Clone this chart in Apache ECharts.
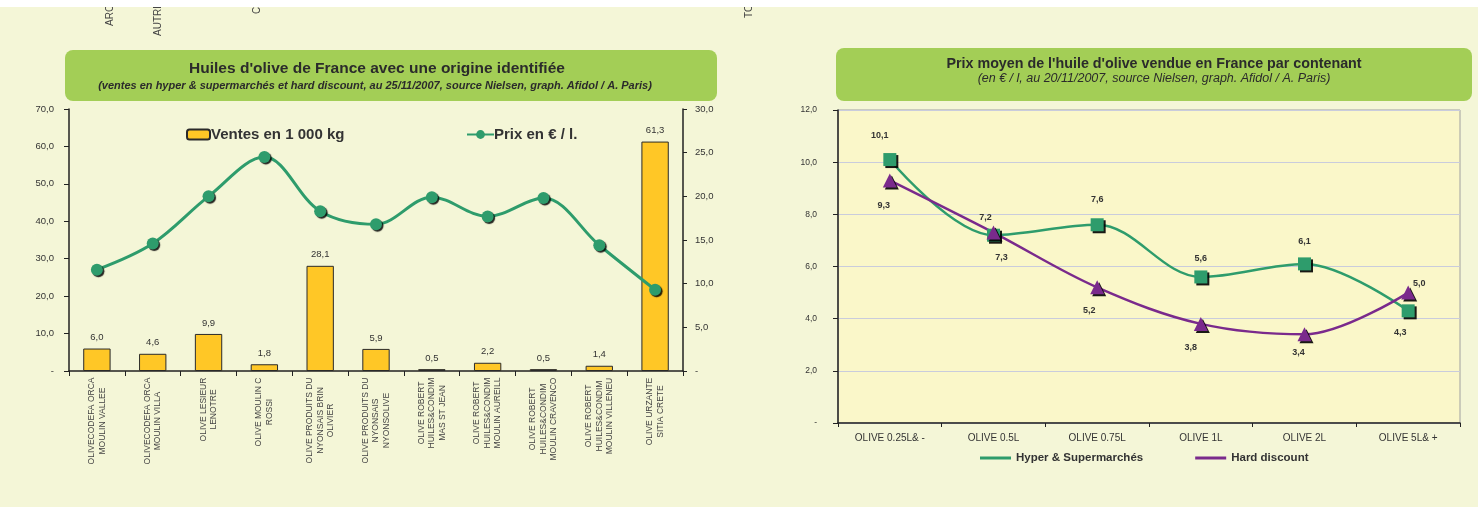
<!DOCTYPE html>
<html><head><meta charset="utf-8">
<script src="https://cdn.jsdelivr.net/npm/echarts@6/dist/echarts.min.js"></script>
<style>html,body{margin:0;padding:0;background:#F4F6D7;}#c{width:1478px;height:507px;}</style>
</head><body><div id="c"></div>
<script>
// ---- Left chart data ----
const leftCategories = [
  'OLIVECODEFA ORCA\nMOULIN VALLEE',
  'OLIVECODEFA ORCA\nMOULIN VILLA',
  'OLIVE LESIEUR\nLENOTRE',
  'OLIVE MOULIN C\nROSSI',
  'OLIVE PRODUITS DU\nNYONSAIS BRIN\nOLIVIER',
  'OLIVE PRODUITS DU\nNYONSAIS\nNYONSOLIVE',
  'OLIVE ROBERT\nHUILES&CONDIM\nMAS ST JEAN',
  'OLIVE ROBERT\nHUILES&CONDIM\nMOULIN AUREILL',
  'OLIVE ROBERT\nHUILES&CONDIM\nMOULIN CRAVENCO',
  'OLIVE ROBERT\nHUILES&CONDIM\nMOULIN VILLENEU',
  'OLIVE URZANTE\nSITIA CRETE'
];
const ventes = [6.0, 4.6, 9.9, 1.8, 28.1, 5.9, 0.5, 2.2, 0.5, 1.4, 61.3];
const prix = [11.6, 14.6, 20.0, 24.5, 18.3, 16.8, 19.9, 17.7, 19.8, 14.4, 9.3];
const leftTicks = [0, 10, 20, 30, 40, 50, 60, 70];
const rightTicks = [0, 5, 10, 15, 20, 25, 30];

// ---- Right chart data ----
const contenants = ['OLIVE 0.25L& -', 'OLIVE 0.5L', 'OLIVE 0.75L', 'OLIVE 1L', 'OLIVE 2L', 'OLIVE 5L& +'];
const hyper = [10.1, 7.2, 7.6, 5.6, 6.1, 4.3];
const hardDiscount = [9.3, 7.3, 5.2, 3.8, 3.4, 5.0];
const prixTicks = [0, 2, 4, 6, 8, 10, 12];

const FONT = 'Liberation Sans, Arial, sans-serif';
const fmt = v => v === 0 ? '-' : v.toFixed(1).replace('.', ',');
const GREEN = '#2E9C6C', PURPLE = '#7A2A8C', YELLOW = '#FFC726';

// label placement for the right chart
const hyperPos = ['top','top','top','top','top','bottom'];
const hyperOff = [[-10,-3],[-8,3],[0,-4],[0,3],[0,-1],[-8,1]];
const hardPos = ['bottom','bottom','bottom','bottom','bottom','top'];
const hardOff = [[-6,4],[8,3],[-8,2],[-10,2],[-6,-3],[11,12]];

// per-category rich styles so each multi-line label is a centred block anchored at the axis
const CAT_FS = 8.5;
const cv = document.createElement('canvas').getContext('2d');
cv.font = CAT_FS + 'px Liberation Sans';
const catRich = {};
leftCategories.forEach((c, i) => {
  const w = Math.max(...c.split('\n').map(l => cv.measureText(l).width));
  catRich['l' + i] = { width: Math.ceil(w) + 1, align: 'center', fontSize: CAT_FS, lineHeight: 10.5, color: '#444', fontFamily: FONT };
});

const chart = echarts.init(document.getElementById('c'));
chart.setOption({
  animation: false,
  backgroundColor: '#F4F6D7',
  textStyle: { fontFamily: FONT },
  graphic: [
    { type: 'text', rotation: Math.PI/2, position: [110, 26], style: { text: 'ARC', fill: '#444', font: '10px ' + FONT, textAlign: 'left', textVerticalAlign: 'middle' }, z: 1 },
    { type: 'text', rotation: Math.PI/2, position: [158, 36], style: { text: 'AUTRE', fill: '#444', font: '10px ' + FONT, textAlign: 'left', textVerticalAlign: 'middle' }, z: 1 },
    { type: 'text', rotation: Math.PI/2, position: [257, 14], style: { text: 'CO', fill: '#444', font: '10px ' + FONT, textAlign: 'left', textVerticalAlign: 'middle' }, z: 1 },
    { type: 'text', rotation: Math.PI/2, position: [749, 18], style: { text: 'TOT', fill: '#444', font: '10px ' + FONT, textAlign: 'left', textVerticalAlign: 'middle' }, z: 1 },
    { type: 'rect', shape: { x: 0, y: 0, width: 1478, height: 7 }, style: { fill: '#FFFFFF' }, z: 2 },
    { type: 'rect', shape: { x: 65, y: 50, width: 652, height: 51, r: 8 }, style: { fill: '#A3CE56' }, z: 1 },
    { type: 'text', position: [377, 69], style: { text: "Huiles d'olive de France avec une origine identifiée", fill: '#2b2b2b', font: 'bold 15.5px ' + FONT, textAlign: 'center', textVerticalAlign: 'middle' }, z: 2 },
    { type: 'text', position: [375, 86], style: { text: "(ventes en hyper & supermarchés et hard discount, au 25/11/2007, source Nielsen, graph. Afidol / A. Paris)", fill: '#2b2b2b', font: 'italic bold 11px ' + FONT, textAlign: 'center', textVerticalAlign: 'middle' }, z: 2 },
    { type: 'rect', shape: { x: 836, y: 48, width: 636, height: 53, r: 8 }, style: { fill: '#A3CE56' }, z: 1 },
    { type: 'text', position: [1154, 64], style: { text: "Prix moyen de l'huile d'olive vendue en France par contenant", fill: '#2b2b2b', font: 'bold 14.3px ' + FONT, textAlign: 'center', textVerticalAlign: 'middle' }, z: 2 },
    { type: 'text', position: [1154, 79], style: { text: "(en € / l, au 20/11/2007, source Nielsen, graph. Afidol / A. Paris)", fill: '#2b2b2b', font: 'italic 12.5px ' + FONT, textAlign: 'center', textVerticalAlign: 'middle' }, z: 2 }
  ],
  legend: [
    { data: ['Ventes en 1 000 kg'], left: 181, top: 122, itemWidth: 23, itemHeight: 10, itemGap: 2,
      textStyle: { fontSize: 15, fontWeight: 'bold', color: '#333', fontFamily: FONT, padding: [0,0,0,-4] } },
    { data: ['Prix en € / l.'], left: 461, top: 122, itemWidth: 27, itemHeight: 11,
      textStyle: { fontSize: 15, fontWeight: 'bold', color: '#333', fontFamily: FONT, padding: [0,0,0,-5] } },
    { data: [{ name: 'Hyper & Supermarchés', icon: 'rect' }, { name: 'Hard discount', icon: 'rect' }],
      left: 975, top: 447, itemWidth: 31, itemHeight: 3, itemGap: 52,
      textStyle: { fontSize: 11.5, fontWeight: 'bold', color: '#333', fontFamily: FONT } }
  ],
  grid: [
    { left: 69, right: 795, top: 109, bottom: 136 },
    { left: 838, right: 18, top: 110, bottom: 84, show: true, backgroundColor: '#FAF7C9', borderColor: '#A0A0A0', borderWidth: 1 }
  ],
  xAxis: [
    { type: 'category', gridIndex: 0, data: leftCategories, boundaryGap: true,
      axisLine: { lineStyle: { color: '#222', width: 1.5 } },
      axisTick: { show: true, length: 5, lineStyle: { color: '#222' } },
      axisLabel: { rotate: 90, margin: 6, interval: 0, color: '#444',
        formatter: (v, i) => v.split('\n').map(l => '{l' + i + '|' + l + '}').join('\n'),
        rich: catRich } },
    { type: 'category', gridIndex: 1, data: contenants, boundaryGap: true,
      axisLine: { lineStyle: { color: '#222', width: 1.5 } },
      axisTick: { show: true, length: 4, lineStyle: { color: '#222' } },
      axisLabel: { margin: 10, fontSize: 10, color: '#333', fontFamily: FONT } }
  ],
  yAxis: [
    { type: 'value', gridIndex: 0, min: leftTicks[0], max: leftTicks[leftTicks.length-1], interval: 10,
      axisLine: { show: true, lineStyle: { color: '#222', width: 1.5 } },
      axisTick: { show: true, length: 5, lineStyle: { color: '#222' } },
      splitLine: { show: false },
      axisLabel: { formatter: fmt, fontSize: 9.5, color: '#333', margin: 15, fontFamily: FONT } },
    { type: 'value', gridIndex: 0, position: 'right', min: rightTicks[0], max: rightTicks[rightTicks.length-1], interval: 5,
      axisLine: { show: true, lineStyle: { color: '#222', width: 1.5 } },
      axisTick: { show: true, length: 4, lineStyle: { color: '#222' } },
      splitLine: { show: false },
      axisLabel: { formatter: fmt, fontSize: 9.5, color: '#333', margin: 12, fontFamily: FONT } },
    { type: 'value', gridIndex: 1, min: prixTicks[0], max: prixTicks[prixTicks.length-1], interval: 2,
      axisLine: { show: true, lineStyle: { color: '#222', width: 1.5 } },
      axisTick: { show: true, length: 5, lineStyle: { color: '#222' } },
      splitLine: { show: true, lineStyle: { color: '#C9CCDC', width: 1 } },
      axisLabel: { formatter: fmt, fontSize: 8.5, color: '#333', margin: 21, fontFamily: FONT } }
  ],
  series: [
    { name: 'Ventes en 1 000 kg', type: 'bar', xAxisIndex: 0, yAxisIndex: 0, data: ventes, barWidth: '49%',
      itemStyle: { color: YELLOW, borderColor: '#2a2a2a', borderWidth: 1 },
      label: { show: true, position: 'top', distance: 6, formatter: p => fmt(p.value), fontSize: 9.5, color: '#333', fontFamily: FONT } },
    { name: 'Prix en € / l.', type: 'line', xAxisIndex: 0, yAxisIndex: 1, data: prix, smooth: 0.35,
      symbol: 'circle', symbolSize: 12,
      lineStyle: { color: GREEN, width: 3 },
      itemStyle: { color: GREEN, shadowColor: 'rgba(0,0,0,0.85)', shadowOffsetX: 1.5, shadowOffsetY: 1.5, shadowBlur: 1 } },
    { name: 'Hyper & Supermarchés', type: 'line', xAxisIndex: 1, yAxisIndex: 2, smooth: 0.35,
      data: hyper.map((v, i) => ({ value: v, label: { position: hyperPos[i], offset: hyperOff[i] } })),
      symbol: 'rect', symbolSize: 13,
      lineStyle: { color: GREEN, width: 2.5 },
      itemStyle: { color: GREEN, shadowColor: 'rgba(0,0,0,0.9)', shadowOffsetX: 2, shadowOffsetY: 2, shadowBlur: 0 },
      label: { show: true, formatter: p => fmt(p.value), fontSize: 9, fontWeight: 'bold', color: '#333', distance: 10, fontFamily: FONT } },
    { name: 'Hard discount', type: 'line', xAxisIndex: 1, yAxisIndex: 2, smooth: 0.35,
      data: hardDiscount.map((v, i) => ({ value: v, label: { position: hardPos[i], offset: hardOff[i] } })),
      symbol: 'triangle', symbolSize: 14,
      lineStyle: { color: PURPLE, width: 2.5 },
      itemStyle: { color: PURPLE, shadowColor: 'rgba(0,0,0,0.9)', shadowOffsetX: 2, shadowOffsetY: 2, shadowBlur: 0 },
      label: { show: true, formatter: p => fmt(p.value), fontSize: 9, fontWeight: 'bold', color: '#333', distance: 10, fontFamily: FONT } }
  ]
});
</script></body></html>
